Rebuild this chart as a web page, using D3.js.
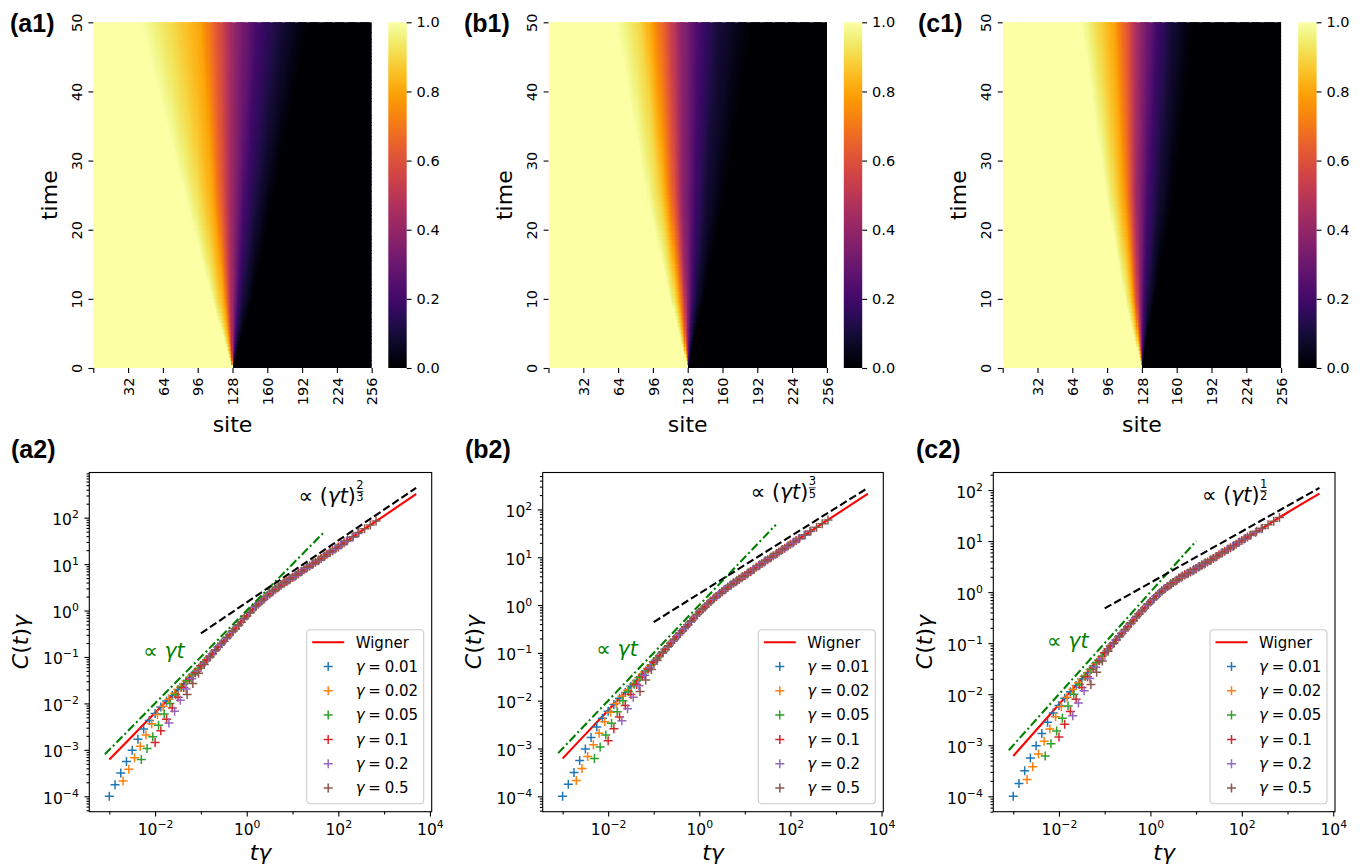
<!DOCTYPE html>
<html>
<head>
<meta charset="utf-8">
<script src="https://cdn.jsdelivr.net/npm/d3@7"></script>
<style>
  html, body { margin: 0; padding: 0; background: #fff; }
  svg text { font-family: "DejaVu Sans", sans-serif; white-space: pre; }
</style>
</head>
<body>
<svg id="fig" width="1361" height="867" xmlns="http://www.w3.org/2000/svg"></svg>
<script>
// ---------- top row: occupation heatmaps ----------
const siteTicks = [0, 32, 64, 96, 128, 160, 192, 224, 256];
const timeTicks = [0, 10, 20, 30, 40, 50];
const colorTicks = [0.0, 0.2, 0.4, 0.6, 0.8, 1.0];
const nSites = 256, tMax = 50, nRows = 100;

// site at which the occupation drops to each level, listed at a few times
const frontTimes = [0, 10, 25, 50];
const frontLevels = [1.0, 0.9, 0.8, 0.6, 0.4, 0.2, 0.1, 0.0];
const frontA1 = [
  [128, 128, 128, 128, 128, 128, 128, 128],
  [109, 115, 120, 124, 128, 133, 138, 147],
  [84, 99, 110, 119, 128, 140, 151, 167],
  [43, 74, 98, 115, 129, 152, 172, 199]
];
const frontB1 = [
  [128, 128, 128, 128, 128, 128, 128, 128],
  [112, 117, 120, 124, 127, 132, 136, 143],
  [90, 102, 108, 116, 123, 135, 144, 163],
  [62, 84, 94, 109, 121, 140, 156, 189]
];
const frontC1 = [
  [128, 128, 128, 128, 128, 128, 128, 128],
  [112, 117, 120, 123, 126, 130, 134, 140],
  [95, 104, 111, 118, 124, 134, 143, 158],
  [72, 88, 102, 115, 126, 142, 155, 177]
];

// ---------- bottom row: C(t)γ versus tγ ----------
const gammas = [0.01, 0.02, 0.05, 0.1, 0.2, 0.5];
const gammaLabels = ["0.01", "0.02", "0.05", "0.1", "0.2", "0.5"];
const seriesColors = ["#1f77b4", "#ff7f0e", "#2ca02c", "#d62728", "#9467bd", "#8c564b"];
const timeSteps = [0.1, 0.1334, 0.1778, 0.2371, 0.3162, 0.4217, 0.5623, 0.7499, 1, 1.334,
  1.778, 2.371, 3.162, 4.217, 5.623, 7.499, 10, 13.34, 17.78, 23.71, 31.62, 42.17, 56.23,
  74.99, 100, 133.4, 177.8, 237.1, 316.2, 421.7, 562.3, 749.9, 1000, 1334];

// log10 of C(t)γ at each time step, panel (a2)
const A_g001 = [-4.00,-3.75,-3.50,-3.25,-3.01,-2.77,-2.55,-2.37,-2.22,-2.08,-1.95,-1.83,-1.70,-1.58,-1.45,-1.33,-1.19,-1.06,-0.93,-0.79,-0.66,-0.52,-0.39,-0.25,-0.11,0.02,0.14,0.25,0.36,0.46,0.55,0.63,0.71,0.79];
const A_g002 = [-3.67,-3.42,-3.17,-2.92,-2.68,-2.44,-2.24,-2.06,-1.91,-1.78,-1.65,-1.52,-1.40,-1.27,-1.14,-1.01,-0.87,-0.74,-0.60,-0.47,-0.33,-0.19,-0.06,0.07,0.19,0.30,0.40,0.49,0.58,0.66,0.74,0.83,0.91,0.99];
const A_g005 = [-3.21,-2.97,-2.72,-2.47,-2.23,-2.00,-1.81,-1.65,-1.51,-1.38,-1.25,-1.11,-0.98,-0.85,-0.71,-0.58,-0.44,-0.31,-0.17,-0.04,0.09,0.21,0.32,0.42,0.51,0.60,0.68,0.76,0.84,0.93,1.01,1.09,1.17,1.26];
const A_g01 = [-2.84,-2.59,-2.34,-2.10,-1.87,-1.66,-1.48,-1.34,-1.19,-1.06,-0.93,-0.79,-0.66,-0.52,-0.39,-0.25,-0.11,0.02,0.14,0.25,0.36,0.46,0.55,0.63,0.71,0.79,0.88,0.96,1.04,1.12,1.21,1.29,1.37,1.46];
const A_g02 = [-2.42,-2.17,-1.93,-1.69,-1.47,-1.31,-1.15,-1.01,-0.87,-0.74,-0.60,-0.47,-0.33,-0.19,-0.06,0.07,0.19,0.30,0.40,0.49,0.58,0.66,0.74,0.83,0.91,0.99,1.07,1.16,1.24,1.32,1.41,1.49,1.58,1.66];
const A_g05 = [-1.81,-1.57,-1.35,-1.16,-1.00,-0.85,-0.71,-0.58,-0.44,-0.31,-0.17,-0.04,0.09,0.21,0.32,0.42,0.51,0.60,0.68,0.76,0.84,0.93,1.01,1.09,1.17,1.26,1.34,1.42,1.51,1.59,1.68,1.76,1.84,1.93];

// panel (b2)
const B_g001 = [-4.00,-3.75,-3.50,-3.25,-3.01,-2.77,-2.55,-2.37,-2.22,-2.08,-1.95,-1.83,-1.70,-1.58,-1.45,-1.33,-1.19,-1.06,-0.93,-0.80,-0.67,-0.54,-0.41,-0.28,-0.15,-0.04,0.08,0.18,0.28,0.37,0.46,0.54,0.62,0.70];
const B_g002 = [-3.67,-3.42,-3.17,-2.92,-2.68,-2.44,-2.24,-2.06,-1.91,-1.78,-1.65,-1.52,-1.40,-1.27,-1.14,-1.01,-0.88,-0.75,-0.62,-0.49,-0.36,-0.23,-0.10,0.01,0.12,0.22,0.32,0.41,0.49,0.57,0.65,0.74,0.82,0.90];
const B_g005 = [-3.21,-2.97,-2.72,-2.47,-2.23,-2.00,-1.81,-1.65,-1.51,-1.38,-1.25,-1.11,-0.98,-0.85,-0.72,-0.59,-0.46,-0.33,-0.20,-0.08,0.03,0.14,0.24,0.33,0.42,0.51,0.59,0.67,0.75,0.84,0.92,1.00,1.08,1.16];
const B_g01 = [-2.84,-2.59,-2.34,-2.10,-1.87,-1.66,-1.48,-1.34,-1.19,-1.06,-0.93,-0.80,-0.67,-0.54,-0.41,-0.28,-0.15,-0.04,0.08,0.18,0.28,0.37,0.46,0.54,0.62,0.70,0.79,0.87,0.95,1.03,1.11,1.19,1.27,1.35];
const B_g02 = [-2.42,-2.17,-1.93,-1.69,-1.47,-1.31,-1.15,-1.01,-0.88,-0.75,-0.62,-0.49,-0.36,-0.23,-0.10,0.01,0.12,0.22,0.32,0.41,0.49,0.57,0.65,0.74,0.82,0.90,0.98,1.06,1.14,1.22,1.30,1.38,1.46,1.54];
const B_g05 = [-1.81,-1.57,-1.35,-1.16,-1.00,-0.86,-0.72,-0.59,-0.46,-0.33,-0.20,-0.08,0.03,0.14,0.24,0.33,0.42,0.51,0.59,0.67,0.75,0.84,0.92,1.00,1.08,1.16,1.24,1.32,1.39,1.47,1.55,1.63,1.70,1.78];

// panel (c2)
const C_g001 = [-4.00,-3.75,-3.50,-3.25,-3.01,-2.77,-2.55,-2.37,-2.22,-2.08,-1.95,-1.83,-1.70,-1.58,-1.45,-1.33,-1.19,-1.06,-0.94,-0.81,-0.68,-0.56,-0.43,-0.31,-0.19,-0.08,0.02,0.11,0.19,0.27,0.34,0.40,0.46,0.53];
const C_g002 = [-3.67,-3.42,-3.17,-2.92,-2.68,-2.44,-2.24,-2.06,-1.91,-1.78,-1.65,-1.52,-1.40,-1.27,-1.14,-1.01,-0.88,-0.76,-0.63,-0.50,-0.38,-0.26,-0.15,-0.04,0.06,0.14,0.22,0.29,0.36,0.42,0.49,0.55,0.62,0.69];
const C_g005 = [-3.21,-2.97,-2.72,-2.47,-2.23,-2.00,-1.81,-1.65,-1.51,-1.38,-1.25,-1.11,-0.99,-0.86,-0.73,-0.61,-0.48,-0.36,-0.24,-0.13,-0.02,0.07,0.16,0.23,0.31,0.37,0.44,0.50,0.57,0.63,0.70,0.77,0.84,0.91];
const C_g01 = [-2.84,-2.59,-2.34,-2.10,-1.87,-1.66,-1.48,-1.34,-1.19,-1.06,-0.94,-0.81,-0.68,-0.56,-0.43,-0.31,-0.19,-0.08,0.02,0.11,0.19,0.27,0.34,0.40,0.46,0.53,0.59,0.66,0.73,0.80,0.87,0.94,1.01,1.08];
const C_g02 = [-2.42,-2.17,-1.93,-1.69,-1.47,-1.31,-1.15,-1.01,-0.88,-0.76,-0.63,-0.50,-0.38,-0.26,-0.15,-0.04,0.06,0.14,0.22,0.29,0.36,0.42,0.49,0.55,0.62,0.69,0.76,0.83,0.90,0.97,1.04,1.11,1.17,1.24];
const C_g05 = [-1.81,-1.57,-1.35,-1.16,-1.00,-0.87,-0.73,-0.61,-0.48,-0.36,-0.24,-0.13,-0.02,0.07,0.16,0.23,0.31,0.37,0.44,0.50,0.57,0.63,0.70,0.77,0.84,0.91,0.98,1.05,1.12,1.19,1.25,1.32,1.39,1.46];

// Wigner reference curve: tγ and log10 of C(t)γ
const wignerX = [1e-3, 3.16e-3, 1e-2, 3.16e-2, 0.1, 0.316, 1, 1.78, 3.16, 5.62, 10, 31.6, 100, 316, 1000, 5000];
const wignerA = [-3.21,-2.705,-2.2,-1.695,-1.19,-0.66,-0.11,0.14,0.36,0.55,0.71,1.04,1.37,1.71,2.04,2.51];
const wignerB = [-3.21,-2.705,-2.2,-1.695,-1.19,-0.67,-0.15,0.075,0.28,0.455,0.62,0.95,1.27,1.58,1.89,2.33];
const wignerC = [-3.21,-2.705,-2.2,-1.695,-1.19,-0.68,-0.19,0.02,0.19,0.335,0.46,0.73,1.01,1.28,1.56,1.93];

// guide lines: ∝ γt (green) and the late-time power law (black)
const linGuideX_A = [8e-4, 48], linGuideY_A = [8e-4, 48];
const linGuideX_B = [8e-4, 48], linGuideY_B = [8e-4, 48];
const linGuideX_C = [8e-4, 10], linGuideY_C = [8e-4, 10];
const powGuideX_A = [0.1, 5000], powGuideY_A = [0.323, 437];
const powGuideX_B = [0.1, 5000], powGuideY_B = [0.44, 282];
const powGuideX_C = [0.1, 5000], powGuideY_C = [0.48, 110];

// ---------- drawing ----------
const svg = d3.select("#fig");
svg.append("rect").attr("width", 1361).attr("height", 867).attr("fill", "#fff");
const inferno = d3.scaleSequential(d3.interpolateInferno).domain([0, 1]);
const defs = svg.append("defs");
const grad = defs.append("linearGradient").attr("id", "cbar-grad")
  .attr("x1", 0).attr("y1", 1).attr("x2", 0).attr("y2", 0);
d3.range(0, 1.0001, 0.02).forEach(v => grad.append("stop")
  .attr("offset", v).attr("stop-color", inferno(v)));

function occupation(front, s, t) {
  let i = 0;
  while (i < frontTimes.length - 2 && t > frontTimes[i + 1]) i++;
  const f = (t - frontTimes[i]) / (frontTimes[i + 1] - frontTimes[i]);
  const pos = front[i].map((p, k) => p + (front[i + 1][k] - p) * f);
  if (s <= pos[0]) return frontLevels[0];
  for (let k = 0; k < pos.length - 1; k++) {
    if (s <= pos[k + 1]) {
      const w = pos[k + 1] - pos[k];
      return w > 0
        ? frontLevels[k] + (frontLevels[k + 1] - frontLevels[k]) * (s - pos[k]) / w
        : frontLevels[k + 1];
    }
  }
  return frontLevels[frontLevels.length - 1];
}

function panelLabel(x, y, txt) {
  svg.append("text").attr("x", x).attr("y", y)
    .style("font-family", "'Liberation Sans', Arial, sans-serif")
    .attr("font-weight", "bold").attr("font-size", 25).text(txt);
}

function mathText(parent, x, y, parts, size, color, anchor, transform) {
  const t = parent.append("text").attr("font-size", size).attr("fill", color)
    .attr("text-anchor", anchor || "start");
  if (transform) t.attr("transform", transform); else t.attr("x", x).attr("y", y);
  parts.forEach(([s, it]) => t.append("tspan")
    .attr("font-style", it ? "italic" : "normal").text(s));
  return t;
}

const HEAT_W = 278.4, HEAT_TOP = 22.3, HEAT_BOTTOM = 368, CBAR_W = 18.4;

function drawHeat(p) {
  const g = svg.append("g");
  const x = d3.scaleLinear().domain([0, nSites]).range([p.x0, p.x0 + HEAT_W]);
  const y = d3.scaleLinear().domain([0, tMax]).range([HEAT_BOTTOM, HEAT_TOP]);
  const dt = tMax / nRows;
  const cells = [];
  for (let j = 0; j < nRows; j++)
    for (let i = 0; i < nSites; i++)
      cells.push({ site: i, t: j * dt, v: occupation(p.front, i + 0.5, (j + 0.5) * dt) });
  const cw = x(1) - x(0), ch = y(0) - y(dt);
  const clipId = "heat-clip-" + p.label.replace(/[()]/g, "");
  defs.append("clipPath").attr("id", clipId).append("rect")
    .attr("x", p.x0).attr("y", HEAT_TOP).attr("width", HEAT_W).attr("height", HEAT_BOTTOM - HEAT_TOP);
  g.append("g").attr("clip-path", `url(#${clipId})`).attr("shape-rendering", "crispEdges")
    .selectAll("rect").data(cells).join("rect")
    .attr("x", d => x(d.site)).attr("y", d => y(d.t + dt) - 0.6)
    .attr("width", cw + 0.8).attr("height", ch + 0.8)
    .attr("fill", d => inferno(d.v));

  const ax = g.append("g").attr("transform", `translate(0,${HEAT_BOTTOM})`)
    .call(d3.axisBottom(x).tickValues(siteTicks).tickSize(4.9).tickFormat(""));
  ax.select(".domain").remove();
  ax.selectAll(".tick line").attr("stroke-width", 1.1);
  ax.selectAll(".tick").filter(d => d !== 0).append("text")
    .attr("transform", "rotate(-90)").attr("x", -9.5).attr("y", 5.2)
    .attr("text-anchor", "end").attr("font-size", 14.5).attr("fill", "#000").text(d => d);

  const ay = g.append("g").attr("transform", `translate(${p.x0},0)`)
    .call(d3.axisLeft(y).tickValues(timeTicks).tickSize(4.9).tickFormat(""));
  ay.select(".domain").remove();
  ay.selectAll(".tick line").attr("stroke-width", 1.1);
  ay.selectAll(".tick").append("text")
    .attr("transform", "rotate(-90)").attr("x", 0).attr("y", -11.5)
    .attr("text-anchor", "middle").attr("font-size", 14.5).attr("fill", "#000").text(d => d);

  // colorbar
  const cy = d3.scaleLinear().domain([0, 1]).range([HEAT_BOTTOM, HEAT_TOP]);
  g.append("rect").attr("x", p.cb).attr("y", HEAT_TOP)
    .attr("width", CBAR_W).attr("height", HEAT_BOTTOM - HEAT_TOP).attr("fill", "url(#cbar-grad)");
  const ac = g.append("g").attr("transform", `translate(${p.cb + CBAR_W},0)`)
    .call(d3.axisRight(cy).tickValues(colorTicks).tickSize(4.9).tickPadding(5)
      .tickFormat(d3.format(".1f")));
  ac.select(".domain").remove();
  ac.selectAll(".tick line").attr("stroke-width", 1.1);
  ac.selectAll(".tick text").attr("font-size", 14.5).style("font-family", "DejaVu Sans");

  g.append("text").attr("transform", `translate(${p.x0 - 36.3},${(HEAT_TOP + HEAT_BOTTOM) / 2}) rotate(-90)`)
    .attr("text-anchor", "middle").attr("font-size", 22).text("time");
  g.append("text").attr("x", p.x0 + HEAT_W / 2).attr("y", 432)
    .attr("text-anchor", "middle").attr("font-size", 22).text("site");
  panelLabel(p.lx, 32, p.label);
}

const LOG_TOP = 472.5, LOG_BOTTOM = 811.7;

function sciTick(sel, n, size) {
  sel.append("tspan").text("10");
  sel.append("tspan").attr("dy", -7).attr("font-size", size * 0.7)
    .text(n < 0 ? "\u2212" + (-n) : String(n));
}

function drawLog(p) {
  const g = svg.append("g");
  const pts = p.series.map((vals, si) =>
    vals.map((v, k) => ({ x: timeSteps[k] * gammas[si], y: Math.pow(10, v) })));
  const wig = wignerX.map((xv, i) => ({ x: xv, y: Math.pow(10, p.wigner[i]) }));
  const lin = p.linX.map((xv, i) => ({ x: xv, y: p.linY[i] }));
  const pow = p.powX.map((xv, i) => ({ x: xv, y: p.powY[i] }));
  const everything = [...pts.flat(), ...wig, ...lin, ...pow];
  const lxe = d3.extent(everything, d => Math.log10(d.x));
  const lye = d3.extent(everything, d => Math.log10(d.y));
  const px = 0.05 * (lxe[1] - lxe[0]), py = 0.05 * (lye[1] - lye[0]);
  const x = d3.scaleLog().domain([10 ** (lxe[0] - px), 10 ** (lxe[1] + px)]).range([p.x0, p.x1]);
  const y = d3.scaleLog().domain([10 ** (lye[0] - py), 10 ** (lye[1] + py)]).range([LOG_BOTTOM, LOG_TOP]);

  const clipId = "clip-" + p.key;
  defs.append("clipPath").attr("id", clipId).append("rect")
    .attr("x", p.x0).attr("y", LOG_TOP).attr("width", p.x1 - p.x0).attr("height", LOG_BOTTOM - LOG_TOP);
  const plot = g.append("g").attr("clip-path", `url(#${clipId})`);

  plot.append("path").datum(wig).attr("fill", "none").attr("stroke", "#ff0000")
    .attr("stroke-width", 2.1)
    .attr("d", d3.line().x(d => x(d.x)).y(d => y(d.y)).curve(d3.curveMonotoneX));

  const plus = "M-4.5,0H4.5M0,-4.5V4.5";
  pts.forEach((arr, si) => {
    plot.append("g").selectAll("path").data(arr).join("path")
      .attr("transform", d => `translate(${x(d.x)},${y(d.y)})`)
      .attr("d", plus).attr("stroke", seriesColors[si]).attr("stroke-width", 1.5).attr("fill", "none");
  });

  plot.append("path").datum(lin).attr("fill", "none").attr("stroke", "#008000")
    .attr("stroke-width", 2.1).attr("stroke-dasharray", "8.5,3,2,3")
    .attr("d", d3.line().x(d => x(d.x)).y(d => y(d.y)));
  plot.append("path").datum(pow).attr("fill", "none").attr("stroke", "#000")
    .attr("stroke-width", 2.1).attr("stroke-dasharray", "7.7,3.3")
    .attr("d", d3.line().x(d => x(d.x)).y(d => y(d.y)));

  // axes
  const [dx0, dx1] = x.domain().map(Math.log10);
  const [dy0, dy1] = y.domain().map(Math.log10);
  const xDec = d3.range(Math.ceil(dx0), Math.floor(dx1) + 1);
  const xMaj = xDec.filter(n => n % 2 === 0), xMin = xDec.filter(n => n % 2 !== 0);
  const yMaj = d3.range(Math.ceil(dy0), Math.floor(dy1) + 1);
  const yMin = [];
  d3.range(Math.floor(dy0), Math.ceil(dy1) + 1).forEach(n => {
    for (let k = 2; k <= 9; k++) {
      const v = k * 10 ** n;
      if (v >= 10 ** dy0 && v <= 10 ** dy1) yMin.push(v);
    }
  });

  const axB = g.append("g").attr("transform", `translate(0,${LOG_BOTTOM})`);
  axB.append("g").call(d3.axisBottom(x).tickValues(xMin.map(n => 10 ** n)).tickSize(2.8).tickFormat(""));
  const majB = axB.append("g").call(d3.axisBottom(x).tickValues(xMaj.map(n => 10 ** n)).tickSize(4.9).tickFormat(""));
  majB.selectAll(".tick").append("text").attr("y", 23.3).attr("text-anchor", "middle")
    .attr("font-size", 15.5).attr("fill", "#000")
    .each(function (d) { sciTick(d3.select(this), Math.round(Math.log10(d)), 15.5); });

  const axL = g.append("g").attr("transform", `translate(${p.x0},0)`);
  axL.append("g").call(d3.axisLeft(y).tickValues(yMin).tickSize(2.8).tickFormat(""));
  const majL = axL.append("g").call(d3.axisLeft(y).tickValues(yMaj.map(n => 10 ** n)).tickSize(4.9).tickFormat(""));
  majL.selectAll(".tick").append("text").attr("x", -10.5).attr("y", 7).attr("text-anchor", "end")
    .attr("font-size", 15.5).attr("fill", "#000")
    .each(function (d) { sciTick(d3.select(this), Math.round(Math.log10(d)), 15.5); });
  g.selectAll(".domain").remove();
  g.selectAll(".tick line").attr("stroke-width", 1.1);

  g.append("rect").attr("x", p.x0).attr("y", LOG_TOP).attr("width", p.x1 - p.x0)
    .attr("height", LOG_BOTTOM - LOG_TOP).attr("fill", "none").attr("stroke", "#000").attr("stroke-width", 1.1);

  // annotations
  const at = mathText(g, x(p.powAt[0]), y(p.powAt[1]),
    [["\u221D ", false], ["(", false], ["\u03B3t", true], [")", false]], 20.5, "#000");
  const fx = x(p.powAt[0]) + at.node().getComputedTextLength() + 4.2;
  const fy = y(p.powAt[1]);
  g.append("text").attr("x", fx).attr("y", fy - 14.3).attr("text-anchor", "middle")
    .attr("font-size", 11.5).text(p.powFrac[0]);
  g.append("line").attr("x1", fx - 3.4).attr("x2", fx + 3.4).attr("y1", fy - 11.6).attr("y2", fy - 11.6)
    .attr("stroke", "#000").attr("stroke-width", 0.8);
  g.append("text").attr("x", fx).attr("y", fy - 1.8).attr("text-anchor", "middle")
    .attr("font-size", 11.5).text(p.powFrac[1]);
  mathText(g, x(p.linAt[0]), y(p.linAt[1]), [["\u221D ", false], ["\u03B3t", true]], 20.5, "#008000");

  // legend
  const LW = 117, LH = 174;
  const lg = g.append("g").attr("transform", `translate(${p.x1 - 8 - LW},${LOG_BOTTOM - 8 - LH})`);
  lg.append("rect").attr("width", LW).attr("height", LH).attr("rx", 3.5)
    .attr("fill", "#fff").attr("fill-opacity", 0.8).attr("stroke", "#cccccc").attr("stroke-width", 1.1);
  const rowY = i => 12.5 + i * 24.3;
  lg.append("line").attr("x1", 5.5).attr("x2", 37.5).attr("y1", rowY(0)).attr("y2", rowY(0))
    .attr("stroke", "#ff0000").attr("stroke-width", 2.1);
  lg.append("text").attr("x", 49).attr("y", rowY(0) + 5.4).attr("font-size", 15).text("Wigner");
  gammaLabels.forEach((lab, i) => {
    lg.append("path").attr("transform", `translate(21.5,${rowY(i + 1)})`).attr("d", plus)
      .attr("stroke", seriesColors[i]).attr("stroke-width", 1.5);
    mathText(lg, 49, rowY(i + 1) + 5.4, [["\u03B3", true], ["\u2005=\u2005" + lab, false]], 15, "#000");
  });

  // axis labels
  mathText(g, (p.x0 + p.x1) / 2, 860, [["t", true], ["\u03B3", true]], 22, "#000", "middle");
  mathText(g, 0, 0, [["C", true], ["(", false], ["t", true], [")", false], ["\u03B3", true]], 22, "#000", "middle",
    `translate(${p.x0 - 61.4},${(LOG_TOP + LOG_BOTTOM) / 2}) rotate(-90)`);
  panelLabel(p.lx, 458, p.label);
}

[
  { label: "(a1)", lx: 10, x0: 93.3, cb: 388.3, front: frontA1 },
  { label: "(b1)", lx: 464, x0: 548.5, cb: 843.8, front: frontB1 },
  { label: "(c1)", lx: 918, x0: 1002.7, cb: 1298.2, front: frontC1 }
].forEach(drawHeat);

[
  { key: "a", label: "(a2)", lx: 11, x0: 89.3, x1: 431.7,
    series: [A_g001, A_g002, A_g005, A_g01, A_g02, A_g05], wigner: wignerA,
    linX: linGuideX_A, linY: linGuideY_A, powX: powGuideX_A, powY: powGuideY_A,
    powAt: [13.5, 204], powFrac: ["2", "3"], linAt: [5.5e-3, 0.093] },
  { key: "b", label: "(b2)", lx: 465, x0: 542.7, x1: 883.3,
    series: [B_g001, B_g002, B_g005, B_g01, B_g02, B_g05], wigner: wignerB,
    linX: linGuideX_B, linY: linGuideY_B, powX: powGuideX_B, powY: powGuideY_B,
    powAt: [13.5, 162], powFrac: ["3", "5"], linAt: [5.5e-3, 0.087] },
  { key: "c", label: "(c2)", lx: 916, x0: 993.3, x1: 1335,
    series: [C_g001, C_g002, C_g005, C_g01, C_g02, C_g05], wigner: wignerC,
    linX: linGuideX_C, linY: linGuideY_C, powX: powGuideX_C, powY: powGuideY_C,
    powAt: [13.5, 57.5], powFrac: ["1", "2"], linAt: [5.5e-3, 0.079] }
].forEach(drawLog);
</script>
</body>
</html>
